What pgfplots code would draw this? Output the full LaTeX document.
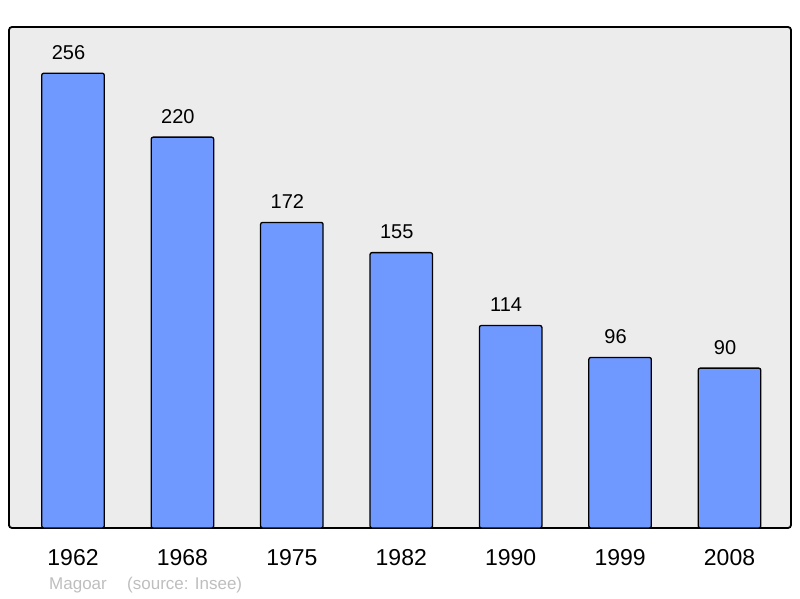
\documentclass[border=0pt]{standalone}
\usepackage{pgfplots}
\pgfplotsset{compat=1.18}
\usepackage{fontspec}
\setmainfont{Liberation Sans}
\definecolor{barblue}{RGB}{112,153,255}
\definecolor{bggray}{RGB}{236,236,236}
\definecolor{srcgray}{RGB}{190,190,190}
\begin{document}
\begin{tikzpicture}[x=1pt,y=1pt]
\path[use as bounding box] (0,0) rectangle (800,598);
\begin{axis}[
  at={(9pt,70pt)}, anchor=south west,
  scale only axis, width=782pt, height=501pt,
  xmin=-0.585, xmax=6.562, ymin=0, ymax=282,
  axis background/.style={fill=bggray},
  axis line style={line width=1.8pt, rounded corners=3pt},
  ytick=\empty,
  xtick=data,
  xticklabels={1962,1968,1975,1982,1990,1999,2008},
  major tick length=0pt,
  xticklabel style={anchor=base, yshift=-37pt, font=\fontsize{23}{26}\selectfont},
  /pgf/number format/assume math mode=true,
  nodes near coords,
  every node near coord/.append style={anchor=base, yshift=14pt, xshift=-4.5pt, font=\fontsize{20}{24}\selectfont, inner sep=0pt},
  clip=false,
]
\addplot[ybar, bar width=62.5pt, fill=barblue, draw=black, line width=1.3pt, rounded corners=2pt]
  coordinates {(0,256) (1,220) (2,172) (3,155) (4,114) (5,96) (6,90)};
\end{axis}
\node[anchor=base west, inner sep=0pt, text=srcgray, font=\fontsize{17}{20}\selectfont] at (49,9) {Magoar};
\node[anchor=base west, inner sep=0pt, text=srcgray, font=\fontsize{17}{20}\selectfont] at (127,9) {(source: Insee)};
\end{tikzpicture}
\end{document}
